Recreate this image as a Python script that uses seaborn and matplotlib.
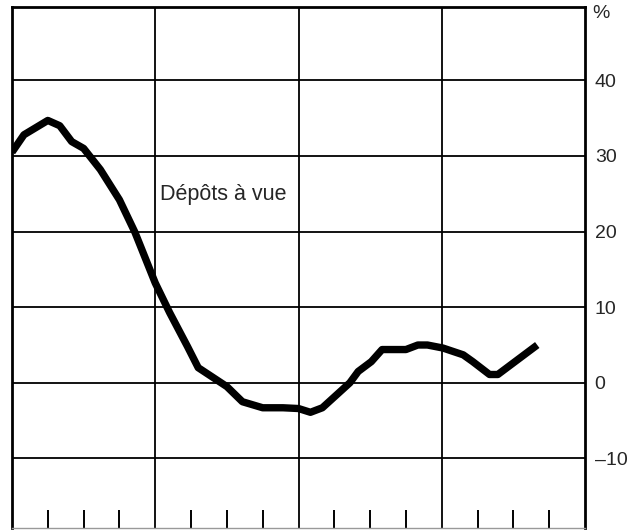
import numpy as np
import pandas as pd
import matplotlib
matplotlib.use('Agg')
import matplotlib.pyplot as plt
import seaborn as sns

sns.set_style('white')
plt.rcParams['font.family'] = ['Liberation Sans', 'DejaVu Sans']

# monthly positions (0 = start of first year, 4 years shown) and growth rate in %
months = [0, 1, 3, 4, 5, 6, 7.4, 9, 10.3, 12, 13.2, 14.7, 15.6, 18, 19.3, 21, 22.7,
          24, 25, 26, 28.3, 29, 30.1, 31, 33, 34, 34.8, 36.1, 37.8, 38.6, 40, 40.7, 44]
depots = [30.5, 32.8, 34.7, 34.0, 31.9, 31.0, 28.2, 24.2, 19.9, 13.2, 9.3, 4.8, 2.0,
          -0.5, -2.5, -3.3, -3.3, -3.4, -3.9, -3.3, 0.0, 1.5, 2.8, 4.4, 4.4, 5.0, 5.0,
          4.6, 3.7, 2.8, 1.1, 1.1, 5.0]
yticks = [-10, 0, 10, 20, 30, 40]
label = 'Dépôts à vue'

df = pd.DataFrame({'mois': months, 'taux': depots})

fig = plt.figure(figsize=(6.35, 5.31), dpi=100)
ax = fig.add_axes([12/635, 3/531, (585-12)/635, (528-7)/531])

sns.lineplot(data=df, x='mois', y='taux', color='black', linewidth=5.3,
             solid_joinstyle='round', solid_capstyle='butt', ax=ax)

ax.set_xlim(0, 48)
ax.set_ylim(-19.2, 49.7)

# grid: horizontal at each 10 %, vertical at each year
for y in yticks:
    ax.axhline(y, color='black', linewidth=1.3, zorder=1)
for x in [12, 24, 36]:
    ax.axvline(x, color='black', linewidth=1.3, zorder=1)

ax.yaxis.tick_right()
ax.set_yticks(yticks)
ax.set_yticklabels([str(v).replace('-', '\u2013') for v in yticks])
ax.tick_params(axis='y', length=0, pad=7, labelsize=14)

ax.set_xticks([m for m in range(3, 48, 3) if m % 12])
ax.set_xticklabels([])
ax.tick_params(axis='x', bottom=True, direction='in', length=13, width=1.4, color='black')

for side in ['left', 'right', 'top']:
    ax.spines[side].set_color('black')
    ax.spines[side].set_linewidth(2)
ax.spines['bottom'].set_color('#999999')
ax.spines['bottom'].set_linewidth(1)

ax.set_xlabel('')
ax.set_ylabel('')

ax.text(12.4, 24.9, label, fontsize=15.5, va='center', ha='left')
ax.text(1.012, 48.8, '%', transform=ax.get_yaxis_transform(), fontsize=14,
        va='center', ha='left')

fig.savefig('out.png', dpi=100)
